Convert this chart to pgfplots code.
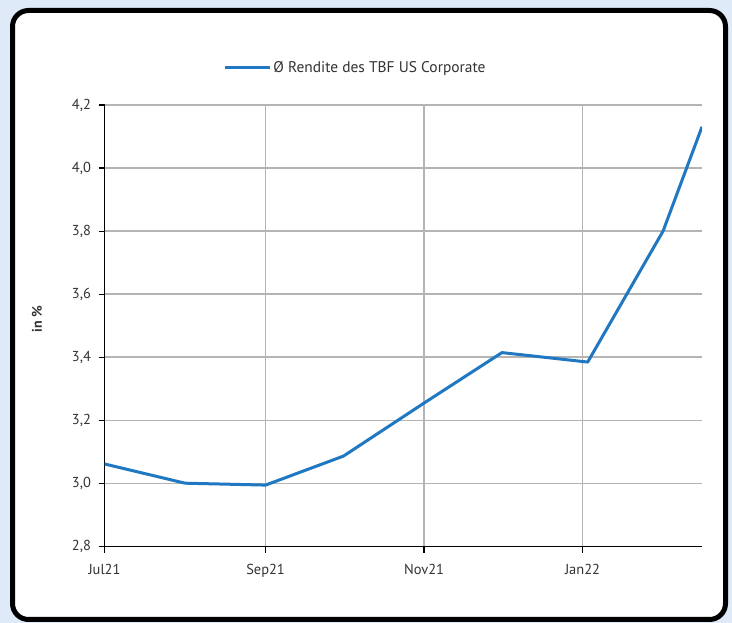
\documentclass[border=0pt]{standalone}
\usepackage{pgfplots}
\pgfplotsset{compat=1.18}
\usepackage{fontspec}
\setmainfont{PT Sans}
\definecolor{bgblue}{HTML}{DEEAF8}
\definecolor{lineblue}{HTML}{1F78C1}
\definecolor{gridgray}{HTML}{B4B4B4}
\definecolor{labelgray}{HTML}{333333}

% yield series: days since 1 Jul 2021, yield in %
\begin{document}
\begin{tikzpicture}[x=1bp,y=1bp]
\fill[bgblue] (0,0) rectangle (732,623);
\useasboundingbox (0,0) rectangle (732,623);
\draw[line width=5bp, fill=white, rounded corners=16bp] (12.5,3.5) rectangle (725.5,612.5);
\begin{axis}[
  at={(104.5bp,76.4bp)}, anchor=south west,
  scale only axis, width=597.5bp, height=441.6bp,
  xmin=0, xmax=230, ymin=2.8, ymax=4.2,
  xtick={0,62,123,184},
  xticklabels={Jul21,Sep21,Nov21,Jan22},
  ytick={2.8,3.0,3.2,3.4,3.6,3.8,4.0,4.2},
  /pgf/number format/assume math mode=true,
  ticklabel style={font=\fontsize{14.5}{16}\selectfont, text=labelgray},
  xticklabel style={yshift=-8bp},
  yticklabel style={xshift=-4bp, /pgf/number format/.cd, fixed, fixed zerofill, precision=1, use comma},
  axis x line*=bottom, axis y line*=left,
  axis line style={black, line width=1.3bp},
  tick style={black, line width=1.3bp},
  tick align=outside, major tick length=6bp,
  grid=major,
  major grid style={gridgray, line width=1.8bp},
  ylabel={in \%},
  ylabel style={at={(rel axis cs:-0.113,0.515)}, anchor=center,
    font=\fontsize{14}{16}\selectfont\bfseries, text=labelgray},
  legend style={at={(0.42,1.084)}, anchor=center, draw=none, fill=none,
    font=\fontsize{15.5}{17}\selectfont, text=labelgray,
    nodes={inner sep=2bp}},
  legend image code/.code={\draw[#1, line width=3bp] (0bp,0bp) -- (45bp,0bp);},
]
\addplot[lineblue, line width=3bp, line join=round] table {
x y
0 3.062
31 3.001
62 2.995
92 3.087
123 3.255
153 3.415
186 3.385
215 3.800
230 4.131
};
\addlegendentry{Ø Rendite des TBF US Corporate}
\end{axis}
\end{tikzpicture}
\end{document}
